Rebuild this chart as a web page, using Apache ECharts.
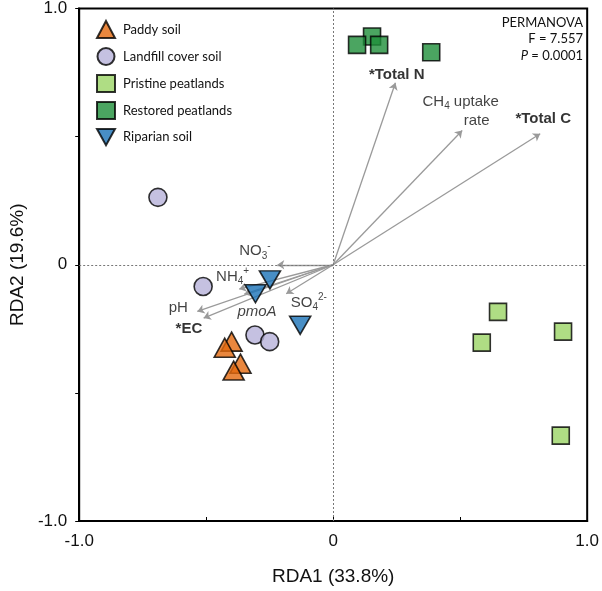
<!DOCTYPE html>
<html><head><meta charset="utf-8">
<script src="https://cdn.jsdelivr.net/npm/echarts@6/dist/echarts.min.js"></script>
<style>html,body{margin:0;padding:0;background:#fff}#c{width:602px;height:591px}</style>
</head><body><div id="c"></div>
<script>
// ---- data ----
const groups = ['Paddy soil','Landfill cover soil','Pristine peatlands','Restored peatlands','Riparian soil'];
const paddyX = [-0.400, -0.427, -0.365, -0.392];
const paddyY = [-0.300, -0.324, -0.386, -0.413];
const landfillX = [-0.690, -0.512, -0.308, -0.250];
const landfillY = [0.263, -0.085, -0.274, -0.300];
const pristineX = [0.649, 0.585, 0.905, 0.896];
const pristineY = [-0.184, -0.304, -0.261, -0.667];
const restoredX = [0.153, 0.094, 0.181, 0.386];
const restoredY = [0.891, 0.858, 0.858, 0.829];
const riparianX = [-0.249, -0.306, -0.130];
const riparianY = [-0.059, -0.113, -0.236];

const envNames = ['Total N','CH4 uptake rate','Total C','NO3','NH4','pmoA','pH','EC','SO4'];
const envX = [0.245, 0.508, 0.815, -0.220, -0.370, -0.350, -0.535, -0.510, -0.185];
const envY = [0.710, 0.524, 0.511, 0.000, -0.095, -0.115, -0.182, -0.208, -0.113];

const labelText = ['{b|*Total N}','{n|CH}{sub|4}{n| uptake}','{n|rate}','{b|*Total C}','{n|NO}{sub|3}{sup|-}','{n|NH}{sub|4}{sup|+}','{i|pmoA}','{n|pH}','{b|*EC}','{n|SO}{sub|4}{sup|2-}'];
const labelX = [0.250, 0.502, 0.565, 0.827, -0.308, -0.396, -0.300, -0.610, -0.568, -0.096];
const labelY = [0.741, 0.637, 0.560, 0.568, 0.054, -0.046, -0.185, -0.170, -0.250, -0.147];

const axisTicks = [-1, 0, 1];
const tickText = ['-1.0', '0', '1.0'];
const statLines = ['PERMANOVA', 'F = 7.557', '{it|P} = 0.0001'];

// ---- build ----
const zip = (xs, ys) => xs.map((x, i) => [x, ys[i]]);
const border = {borderColor: '#000', borderWidth: 1.6};
const invTri = 'path://M0,0 L20,0 L10,18 Z';
const chart = echarts.init(document.getElementById('c'), null, {renderer: 'canvas'});
const fmt = v => { const k = axisTicks.findIndex(t => Math.abs(t - v) < 1e-9); return k >= 0 ? tickText[k] : ''; };
const F = 'Liberation Sans';
const tb = {textBorderWidth: 0, textShadowBlur: 0};
const rich = {
  n: Object.assign({fontFamily: F, fontSize: 15, color: '#111', lineHeight: 20, verticalAlign: 'middle'}, tb),
  b: Object.assign({fontFamily: F, fontSize: 15, color: '#000', fontWeight: 'bold', lineHeight: 20}, tb),
  i: Object.assign({fontFamily: F, fontSize: 15, color: '#111', fontStyle: 'italic', lineHeight: 20}, tb),
  sub: Object.assign({fontFamily: F, fontSize: 10, color: '#111', lineHeight: 20, verticalAlign: 'bottom'}, tb),
  sup: Object.assign({fontFamily: F, fontSize: 10, color: '#111', lineHeight: 20, verticalAlign: 'top'}, tb)
};

const option = {
  animation: false,
  backgroundColor: '#fff',
  grid: {left: 73, right: 9, top: 5, bottom: 68, show: true, borderColor: '#000', borderWidth: 2},
  xAxis: {
    type: 'value', min: -1, max: 1, interval: 0.5,
    name: 'RDA1 (33.8%)', nameLocation: 'middle', nameGap: 46,
    nameTextStyle: {fontFamily: F, fontSize: 19, color: '#111'},
    axisLine: {onZero: false, lineStyle: {color: '#000', width: 2}},
    axisTick: {inside: true, length: 4, lineStyle: {color: '#000', width: 1}},
    axisLabel: {formatter: fmt, fontFamily: F, fontSize: 17, color: '#111', margin: 12, showMinLabel: true, showMaxLabel: true},
    splitLine: {show: false}
  },
  yAxis: {
    type: 'value', min: -1, max: 1, interval: 0.5,
    name: 'RDA2 (19.6%)', nameLocation: 'middle', nameGap: 32,
    nameTextStyle: {fontFamily: F, fontSize: 19, color: '#111'},
    axisLine: {onZero: false, lineStyle: {color: '#000', width: 2}},
    axisTick: {inside: false, length: 4, lineStyle: {color: '#000', width: 1}},
    axisLabel: {formatter: fmt, fontFamily: F, fontSize: 17, color: '#111', margin: 12, showMinLabel: true, showMaxLabel: true},
    splitLine: {show: false}
  },
  legend: {
    orient: 'vertical', left: 91, top: 15, itemWidth: 18, itemHeight: 17, itemGap: 8,
    data: groups,
    textStyle: {fontFamily: 'Lato', fontSize: 13, color: '#111', padding: [0, 0, 0, 3]}
  },
  graphic: statLines.map((t, i) => ({
    type: 'text', right: 19, top: 16 + i * 16.5,
    style: {
      text: t, fontFamily: 'Lato', fontSize: 13, fill: '#111',
      rich: {it: {fontStyle: 'italic', fontFamily: 'Lato', fontSize: 13, fill: '#111'}}
    }
  })),
  series: [
    {
      type: 'line', data: [], silent: true,
      markLine: {
        silent: true, symbol: 'none', label: {show: false},
        lineStyle: {color: '#777', type: [2, 2], width: 1},
        data: [{xAxis: 0}, {yAxis: 0}]
      }
    },
    {
      type: 'lines', coordinateSystem: 'cartesian2d', silent: true, z: 3,
      symbol: ['none', 'arrow'], symbolSize: 7,
      lineStyle: {color: '#9a9a9a', width: 1.3, opacity: 1},
      data: envX.map((x, i) => ({coords: [[0, 0], [x, envY[i]]]}))
    },
    {
      type: 'scatter', silent: true, z: 4, symbolSize: 0,
      itemStyle: {color: '#111'},
      data: labelX.map((x, i) => ({value: [x, labelY[i]], label: {formatter: labelText[i]}})),
      label: Object.assign({show: true, position: 'inside', color: '#111', rich: rich}, tb)
    },
    {name: groups[0], type: 'scatter', symbol: 'triangle', symbolSize: [21, 19], z: 5,
      itemStyle: Object.assign({color: '#E4690E'}, border), data: zip(paddyX, paddyY)},
    {name: groups[1], type: 'scatter', symbol: 'circle', symbolSize: 18, z: 5,
      itemStyle: Object.assign({color: '#B7B2DA'}, border), data: zip(landfillX, landfillY)},
    {name: groups[2], type: 'scatter', symbol: 'rect', symbolSize: 17, z: 5,
      itemStyle: Object.assign({color: '#9BD565'}, border), data: zip(pristineX, pristineY)},
    {name: groups[3], type: 'scatter', symbol: 'rect', symbolSize: 17, z: 5,
      itemStyle: Object.assign({color: '#1E8E3A'}, border), data: zip(restoredX, restoredY)},
    {name: groups[4], type: 'scatter', symbol: invTri, symbolSize: [21, 18], z: 5,
      itemStyle: Object.assign({color: '#1A72B6'}, border), data: zip(riparianX, riparianY)}
  ]
};
chart.setOption(option);
</script></body></html>
